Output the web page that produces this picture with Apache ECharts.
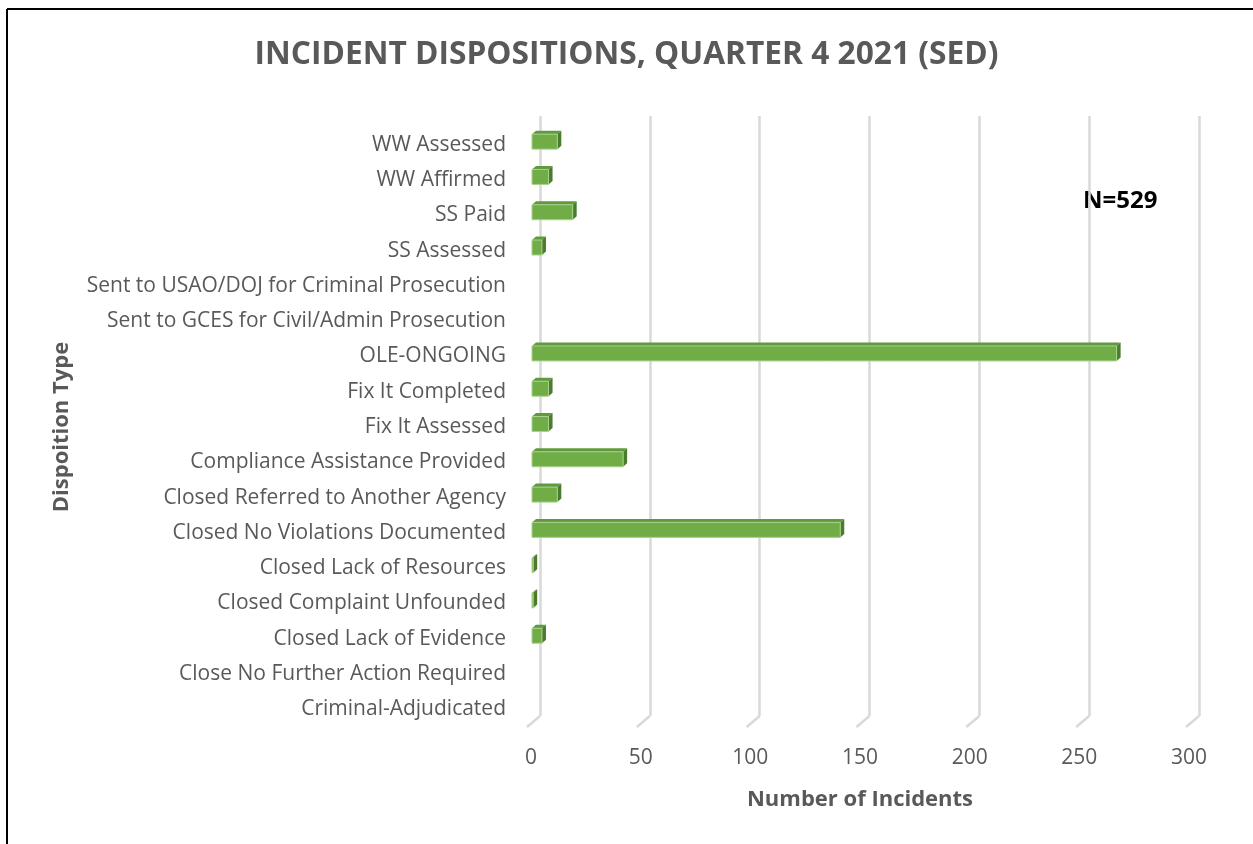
<!DOCTYPE html>
<html lang="en">
<head>
<meta charset="UTF-8">
<title>Incident dispositions Q4 2021</title>
<script src="https://cdn.jsdelivr.net/npm/echarts@6.0.0/dist/echarts.min.js"></script>
<style>
    body { margin: 0; padding: 0; background: #ffffff; }
    #chart { width: 1253px; height: 844px; }
</style>
</head>
<body>
<div id="chart"></div>
<script>
  // categories from top to bottom
  var categories = [
    'WW Assessed',
    'WW Affirmed',
    'SS Paid',
    'SS Assessed',
    'Sent to USAO/DOJ for Criminal Prosecution',
    'Sent to GCES for Civil/Admin Prosecution',
    'OLE-ONGOING',
    'Fix It Completed',
    'Fix It Assessed',
    'Compliance Assistance Provided',
    'Closed Referred to Another Agency',
    'Closed No Violations Documented',
    'Closed Lack of Resources',
    'Closed Complaint Unfounded',
    'Closed Lack of Evidence',
    'Close No Further Action Required',
    'Criminal-Adjudicated'
  ];
  var incidents = [12, 8, 19, 5, 0, 0, 267, 8, 8, 42, 12, 141, 1, 1, 5, 0, 0];
  var xTicks = [0, 50, 100, 150, 200, 250, 300];

  var grey = '#595959';
  var font = 'Open Sans';

  var barData = incidents.map(function (v, i) { return [v, i]; });
  var floorData = xTicks.map(function (t) { return [t, 0]; });

  // 3d-ish bar: front face, top face, right side
  function renderBar(params, api) {
    var v = api.value(0);
    if (!v) return;
    var start = api.coord([0, api.value(1)]);
    var end = api.coord([v, api.value(1)]);
    var x0 = start[0] + 1, x1 = end[0];
    var yc = start[1] - 3;
    var h = 15, d = 4, dy = 3.5;
    var yt = yc - h / 2, yb = yc + h / 2;
    return {
      type: 'group',
      children: [
        {
          type: 'polygon',
          shape: { points: [[x0, yt], [x1, yt], [x1 + d, yt - dy], [x0 + d, yt - dy]] },
          style: { fill: '#5f9a3c' }
        },
        {
          type: 'polygon',
          shape: { points: [[x1, yt], [x1 + d, yt - dy], [x1 + d, yb - dy], [x1, yb]] },
          style: { fill: '#4b7b2d' }
        },
        {
          type: 'rect',
          shape: { x: x0, y: yt, width: Math.max(x1 - x0, 0), height: h },
          style: { fill: '#70ad47', stroke: '#a9d18e', lineWidth: 1 }
        }
      ]
    };
  }

  // slanted floor part of each gridline
  function renderFloor(params, api) {
    var p = api.coord([api.value(0), 0]);
    return {
      type: 'line',
      shape: { x1: p[0], y1: p[1], x2: p[0] - 13, y2: p[1] + 11 },
      style: { stroke: '#d9d9d9', lineWidth: 2.5 }
    };
  }

  var chart = echarts.init(document.getElementById('chart'));
  chart.setOption({
    backgroundColor: '#ffffff',
    animation: false,
    textStyle: { fontFamily: font },
    title: {
      text: 'INCIDENT DISPOSITIONS, QUARTER 4 2021 (SED)',
      left: 'center',
      top: 34,
      textStyle: { color: grey, fontSize: 31.7, fontWeight: 'bold', fontFamily: font }
    },
    graphic: [
      { type: 'line', shape: { x1: 7, y1: 9, x2: 1253, y2: 9 }, style: { stroke: '#000', lineWidth: 2 } },
      { type: 'line', shape: { x1: 7, y1: 9, x2: 7, y2: 844 }, style: { stroke: '#000', lineWidth: 2 } },
      {
        type: 'text', left: 1083, top: 189,
        style: { text: 'N=529', fill: '#000', font: 'bold 24px "' + font + '"' }
      }
    ],
    grid: [
      { left: 531, top: 127, width: 658, height: 600 },
      { left: 540, top: 116, width: 659, height: 600 }
    ],
    xAxis: [
      {
        type: 'value', gridIndex: 0, min: 0, max: 300, interval: 50,
        axisLine: { show: false }, axisTick: { show: false }, splitLine: { show: false },
        axisLabel: { color: grey, fontSize: 21, margin: 21 },
        name: 'Number of Incidents', nameLocation: 'middle', nameGap: 62,
        nameTextStyle: { color: grey, fontSize: 22, fontWeight: 'bold' }
      },
      {
        type: 'value', gridIndex: 1, min: 0, max: 300, interval: 50,
        axisLine: { show: false }, axisTick: { show: false }, axisLabel: { show: false },
        splitLine: { show: true, lineStyle: { color: '#d9d9d9', width: 2.5 } }
      }
    ],
    yAxis: [
      {
        type: 'category', gridIndex: 0, data: categories, inverse: true,
        axisLine: { show: false }, axisTick: { show: false },
        axisLabel: { color: grey, fontSize: 21, margin: 25 },
        name: 'Dispoition Type', nameLocation: 'middle', nameGap: 458,
        nameTextStyle: { color: grey, fontSize: 22, fontWeight: 'bold' }
      },
      {
        type: 'value', gridIndex: 1, min: 0, max: 1, show: false
      }
    ],
    series: [
      {
        type: 'custom', xAxisIndex: 1, yAxisIndex: 1,
        renderItem: renderFloor, data: floorData, silent: true, z: 1
      },
      {
        type: 'custom', xAxisIndex: 0, yAxisIndex: 0,
        renderItem: renderBar, data: barData, z: 3
      }
    ]
  });
</script>
</body>
</html>
